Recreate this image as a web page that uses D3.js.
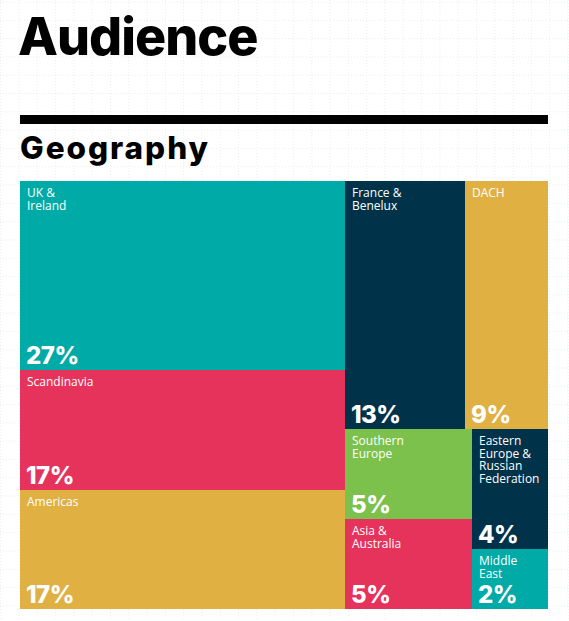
<!DOCTYPE html>
<html>
<head>
<meta charset="utf-8">
<script src="https://cdn.jsdelivr.net/npm/d3@7"></script>
<style>
  body { margin: 0; background: #fff; }
  svg { display: block; }
</style>
</head>
<body>
<div id="chart"></div>
<script>
// data
var regions = ["UK & Ireland", "Scandinavia", "Americas", "France & Benelux", "DACH",
  "Southern Europe", "Asia & Australia", "Eastern Europe & Russian Federation", "Middle East"];
var shares = [27, 17, 17, 13, 9, 5, 5, 4, 2];
var labelLines = [["UK &", "Ireland"], ["Scandinavia"], ["Americas"], ["France &", "Benelux"], ["DACH"],
  ["Southern", "Europe"], ["Asia &", "Australia"], ["Eastern", "Europe &", "Russian", "Federation"], ["Middle", "East"]];
// where each block sits in the nested layout
var groupPaths = ["left", "left", "left", "right/top", "right/top",
  "right/bottom/a", "right/bottom/a", "right/bottom/b", "right/bottom/b"];
var colors = ["#00aaa6", "#e6335b", "#e0b043", "#00324a", "#e0b043",
  "#7bc14b", "#e6335b", "#00324a", "#00aaa6"];

// svg container
var svgWidth = 569;
var svgHeight = 621;

var margin = { top: 181, left: 20 };
var width = 528;
var height = 428;

var svg = d3.select("#chart")
  .append("svg")
  .attr("width", svgWidth)
  .attr("height", svgHeight);

// dotted background grid
var gridStep = 18.3;
var grid = svg.append("g").attr("class", "grid");
grid.selectAll("line.h")
  .data(d3.range(2, svgHeight, gridStep))
  .enter()
  .append("line")
  .attr("x1", 0).attr("x2", svgWidth)
  .attr("y1", d => d).attr("y2", d => d)
  .attr("stroke", "#e8eff2")
  .attr("stroke-width", 1)
  .attr("stroke-dasharray", "1,2");
grid.selectAll("line.v")
  .data(d3.range(0.7, svgWidth, gridStep))
  .enter()
  .append("line")
  .attr("y1", 0).attr("y2", svgHeight)
  .attr("x1", d => d).attr("x2", d => d)
  .attr("stroke", "#e8eff2")
  .attr("stroke-width", 1)
  .attr("stroke-dasharray", "1,2");

// titles
svg.append("text")
  .attr("x", 18)
  .attr("y", 55)
  .attr("font-family", "Inter, 'Noto Sans', sans-serif")
  .attr("font-weight", 800)
  .attr("font-size", 52)
  .attr("letter-spacing", -1)
  .attr("fill", "#000")
  .text("Audience");

svg.append("rect")
  .attr("x", margin.left)
  .attr("y", 115)
  .attr("width", width)
  .attr("height", 9)
  .attr("fill", "#000");

svg.append("text")
  .attr("x", 20)
  .attr("y", 159)
  .attr("font-family", "Inter, 'Noto Sans', sans-serif")
  .attr("font-weight", 800)
  .attr("font-size", 31.5)
  .attr("textLength", 188)
  .attr("lengthAdjust", "spacing")
  .attr("fill", "#000")
  .text("Geography");

// build nested tree out of the group paths
var rootData = { name: "root", children: [] };
regions.forEach(function(name, i) {
  var node = rootData;
  groupPaths[i].split("/").forEach(function(key) {
    var child = node.children.find(c => c.name === key);
    if (!child) {
      child = { name: key, children: [] };
      node.children.push(child);
    }
    node = child;
  });
  node.children.push({ name: name, value: shares[i], lines: labelLines[i], color: colors[i] });
});

var root = d3.hierarchy(rootData).sum(d => d.value || 0);

d3.treemap()
  .tile(d3.treemapSliceDice)
  .size([width, height])
  .round(true)(root);

var chartGroup = svg.append("g")
  .attr("transform", `translate(${margin.left}, ${margin.top})`);

var cells = chartGroup.selectAll("g.cell")
  .data(root.leaves())
  .enter()
  .append("g")
  .attr("class", "cell")
  .attr("transform", d => `translate(${d.x0}, ${d.y0})`);

cells.append("rect")
  .attr("width", d => d.x1 - d.x0)
  .attr("height", d => d.y1 - d.y0)
  .attr("fill", d => d.data.color);

// region name
cells.append("text")
  .attr("x", 7)
  .attr("y", 16)
  .attr("font-family", "'Open Sans', sans-serif")
  .attr("font-size", 12)
  .attr("fill", "#fff")
  .selectAll("tspan")
  .data(d => d.data.lines)
  .enter()
  .append("tspan")
  .attr("x", 7)
  .attr("dy", (d, i) => i === 0 ? 0 : 12.6)
  .text(d => d);

// percentage
cells.append("text")
  .attr("x", 6)
  .attr("y", d => d.y1 - d.y0 - 6)
  .attr("font-family", "Inter, 'Noto Sans', sans-serif")
  .attr("font-weight", 800)
  .attr("font-size", 24)
  .attr("letter-spacing", -0.5)
  .attr("fill", "#fff")
  .text(d => d.data.value + "%");
</script>
</body>
</html>
